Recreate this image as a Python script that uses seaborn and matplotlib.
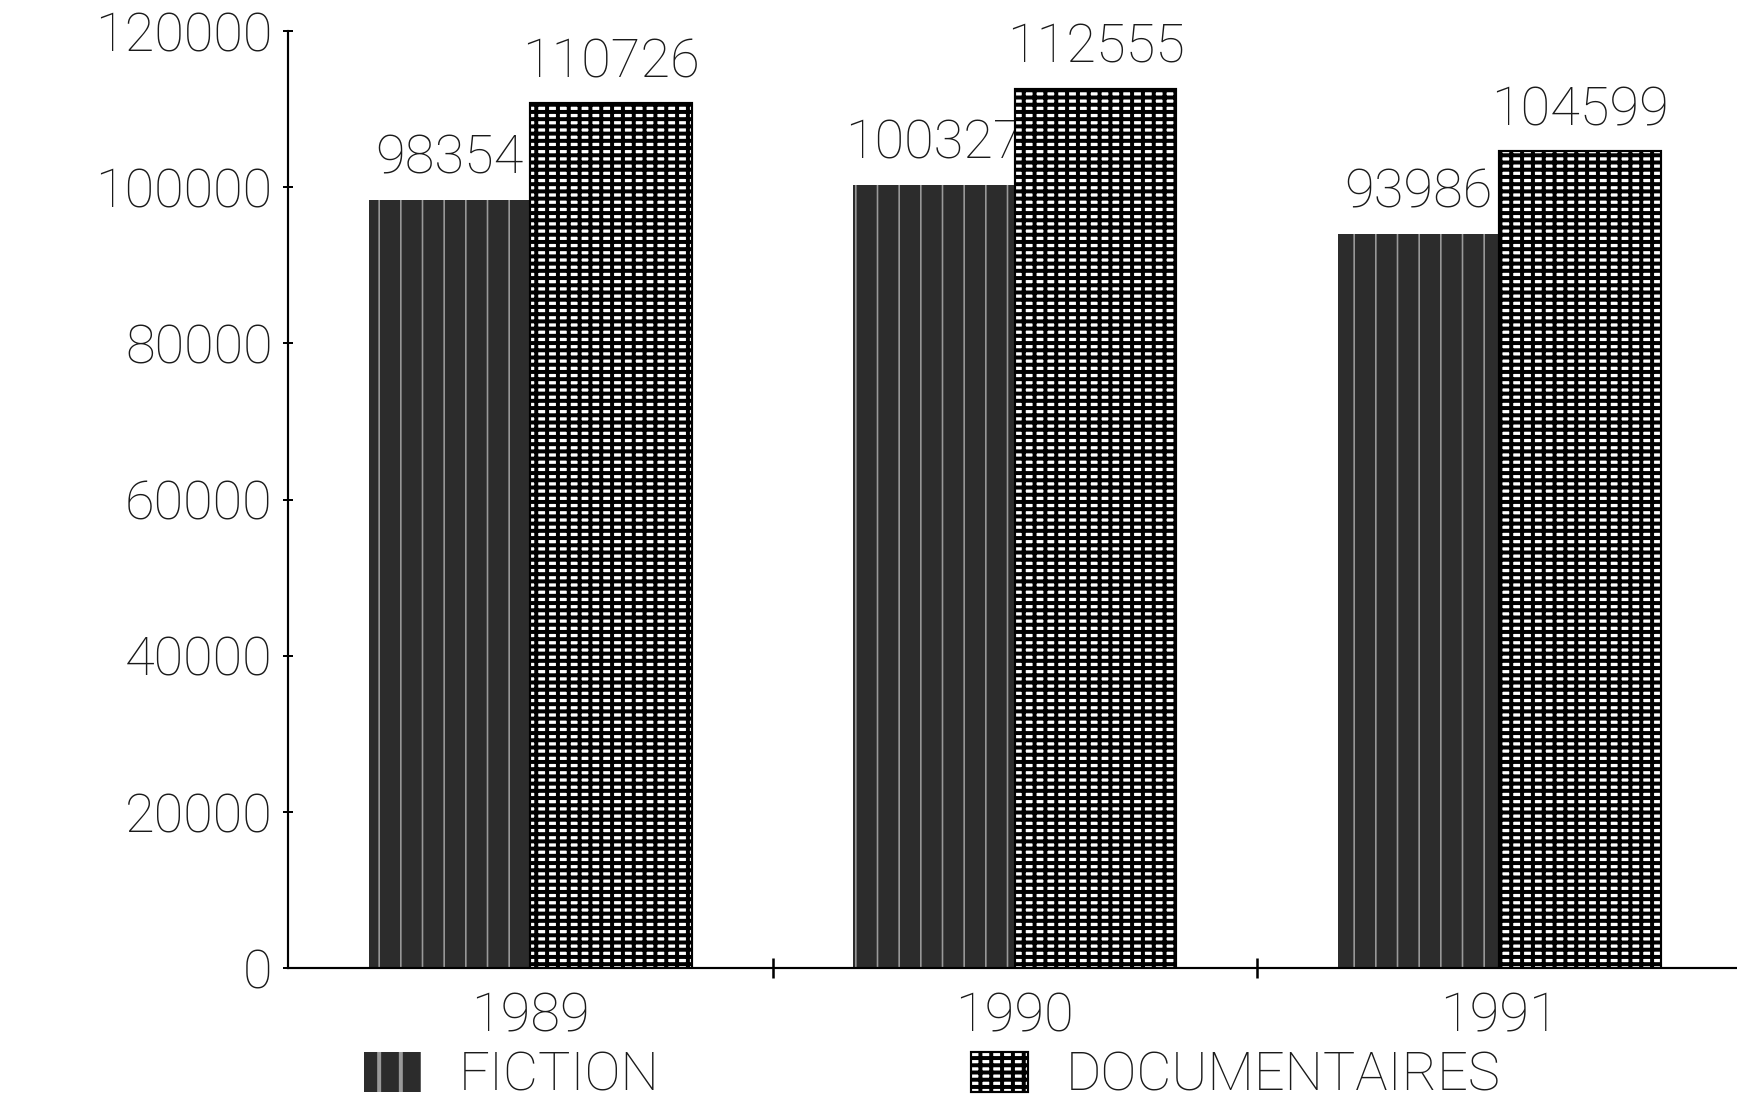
import matplotlib
matplotlib.use("Agg")
import matplotlib.pyplot as plt
import matplotlib.patches as mpatches
import pandas as pd
import seaborn as sns

# Prêts par genre et par année
years = ["1989", "1990", "1991"]
series = ["FICTION", "DOCUMENTAIRES"]
fiction = [98354, 100327, 93986]
documentaires = [110726, 112555, 104599]
y_ticks = [0, 20000, 40000, 60000, 80000, 100000, 120000]

df = pd.DataFrame({
    "annee": years * 2,
    "prets": fiction + documentaires,
    "genre": [series[0]] * len(years) + [series[1]] * len(years),
})

sns.set_theme(style="ticks")
plt.rcParams["font.family"] = ["Roboto", "DejaVu Sans"]
plt.rcParams["hatch.linewidth"] = 2.2

DPI = 130
W, H = 1737, 1103
FS = 30
INK = "#1a1a1a"

# Textures: dark fill with light vertical rules / white dashes on a black grid
styles = {
    "FICTION": dict(facecolor="#2c2c2c", edgecolor="#9a9a9a", hatch="|", lw=0.0, hlw=0.9, z=2),
    "DOCUMENTAIRES": dict(facecolor="white", edgecolor="black", hatch="++-", lw=1.2, hlw=2.2, z=3),
}

fig = plt.figure(figsize=(W / DPI, H / DPI), dpi=DPI)
ax = fig.add_axes([288 / W, 1 - 968 / H, 1453.5 / W, (968 - 31) / H])

sns.barplot(
    data=df, x="annee", y="prets", hue="genre", order=years, hue_order=series,
    palette=[styles[s]["facecolor"] for s in series], saturation=1,
    width=2 / 3, gap=0, dodge=True, errorbar=None, legend=False, ax=ax,
)


def style_patch(p, st):
    p.set_facecolor(st["facecolor"])
    p.set_edgecolor(st["edgecolor"])
    p.set_hatch(st["hatch"])
    p.set_linewidth(st["lw"])
    if hasattr(p, "set_hatch_linewidth"):
        p.set_hatch_linewidth(st["hlw"])


for name, cont, values in zip(series, ax.containers, [fiction, documentaires]):
    st = styles[name]
    for bar, v in zip(cont, values):
        style_patch(bar, st)
        bar.set_zorder(st["z"])
        ax.annotate(
            f"{v}", xy=(bar.get_x() + bar.get_width() / 2, v),
            xytext=(0, 14.5), textcoords="offset points",
            ha="center", va="baseline", fontsize=FS, fontweight="light",
            color=INK, zorder=2.5,
        )

ax.set_xlim(-0.5, 2.5)
ax.set_ylim(0, 120000)
ax.set_yticks(y_ticks)
ax.set_yticklabels([str(t) for t in y_ticks])
ax.set_xlabel("")
ax.set_ylabel("")

# Separators between year groups on the baseline
ax.set_xticks([0.5, 1.5], minor=True)
ax.tick_params(axis="x", which="major", length=0, pad=12.5, labelsize=FS, labelcolor=INK)
ax.tick_params(axis="x", which="minor", direction="inout", length=11.5, width=1.4, color="black")
ax.tick_params(axis="y", direction="inout", length=5, width=1.1, pad=6, labelsize=FS,
               labelcolor=INK, color="black")
for lab in ax.get_xticklabels() + ax.get_yticklabels():
    lab.set_fontweight("light")

sns.despine(ax=ax)
for side in ("left", "bottom"):
    ax.spines[side].set_color("black")
    ax.spines[side].set_linewidth(1.2)
    ax.spines[side].set_clip_on(False)

handles = []
for name in series:
    st = styles[name]
    h = mpatches.Patch()
    style_patch(h, st)
    handles.append(h)

fig.legend(
    handles, series, loc="center left", bbox_to_anchor=(364 / W, 1 - 1076 / H),
    ncol=2, frameon=False, prop={"size": FS, "weight": "light"},
    handlelength=1.05, handleheight=0.75, handletextpad=0.7, columnspacing=5.75,
    borderpad=0, borderaxespad=0, labelcolor=INK,
)

fig.savefig("out.png", dpi=DPI, facecolor="white")
